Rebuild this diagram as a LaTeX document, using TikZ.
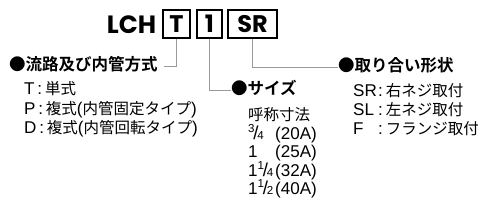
\documentclass[tikz,border=0pt]{standalone}
\usepackage{fontspec}
\setmainfont{Liberation Sans}[Scale=1.1]
\newfontfamily\jp{Noto Sans CJK JP}[BoldFont={* Bold}]
\newfontfamily\popfont{Poppins}[BoldFont={* Bold}]
\newcommand\J[1]{{\jp #1}}
\newcommand\fr[2]{\raisebox{0.38em}{\fontsize{10.5}{10.5}\selectfont #1}\kern-1.2pt{\fontsize{17}{17}\selectfont /}\kern-1.2pt{\fontsize{10.5}{10.5}\selectfont #2}}
\begin{document}
\begin{tikzpicture}[x=1pt,y=-1pt,
  item/.style={anchor=west,inner sep=0pt,font=\fontsize{15.5}{15.5}\selectfont,text height=0.88em,text depth=0.12em},
  head/.style={item,font=\fontsize{16.5}{16.5}\selectfont\jp\bfseries},
  codebox/.style={draw=black,line width=1.1pt,minimum height=28pt,inner sep=0pt,font=\popfont\bfseries\fontsize{24}{24}\selectfont},
  conn/.style={draw=gray!80,line width=0.8pt}]
\useasboundingbox (0,0) rectangle (500,217);
\node[inner sep=0pt,font=\popfont\bfseries\fontsize{25}{25}\selectfont] (lch) at (131.5,25) {LCH};
\node[codebox,minimum width=27pt] (bT) at (176.5,24) {T};
\node[codebox,minimum width=25pt] (b1) at (209.5,24) {1};
\node[codebox,minimum width=49pt] (bSR) at (252.5,24) {SR};
% headers
\node[head] (h1) at (9,66) {●流路及び内管方式};
\node[head] (h2) at (231,90) {●サイズ};
\node[head] (h3) at (338,67) {●取り合い形状};
% connectors
\draw[conn] (bT.south) |- ([xshift=6pt]h1.east);
\draw[conn] (b1.south) |- (h2.west);
\draw[conn] (bSR.south) |- (h3.west);
% list 1
\node[item] (t1) at (24,90) {T\,:\,\J{単式}};
\node[item] (t2) at (24,110) {P\,:\,\J{複式}(\J{内管固定タイプ})};
\node[item] (t3) at (24,129) {D\,:\,\J{複式}(\J{内管回転タイプ})};
% list 2
\node[item] (s0) at (248,116) {\J{呼称寸法}};
\node[item] (s1) at (248,135) {\makebox[27pt][l]{\fr{3}{4}}(20A)};
\node[item] (s2) at (248,153) {\makebox[27pt][l]{1}(25A)};
\node[item] (s3) at (248,172) {\makebox[27pt][l]{1\fr{1}{4}}(32A)};
\node[item] (s4) at (248,190) {\makebox[27pt][l]{1\fr{1}{2}}(40A)};
% list 3
\node[item] (r1) at (353,92) {\makebox[25pt][l]{SR}:\hspace{3pt}\J{右ネジ取付}};
\node[item] (r2) at (353,111) {\makebox[25pt][l]{SL}:\hspace{3pt}\J{左ネジ取付}};
\node[item] (r3) at (353,130) {\makebox[25pt][l]{F}:\hspace{3pt}\J{フランジ取付}};
\end{tikzpicture}
\end{document}
